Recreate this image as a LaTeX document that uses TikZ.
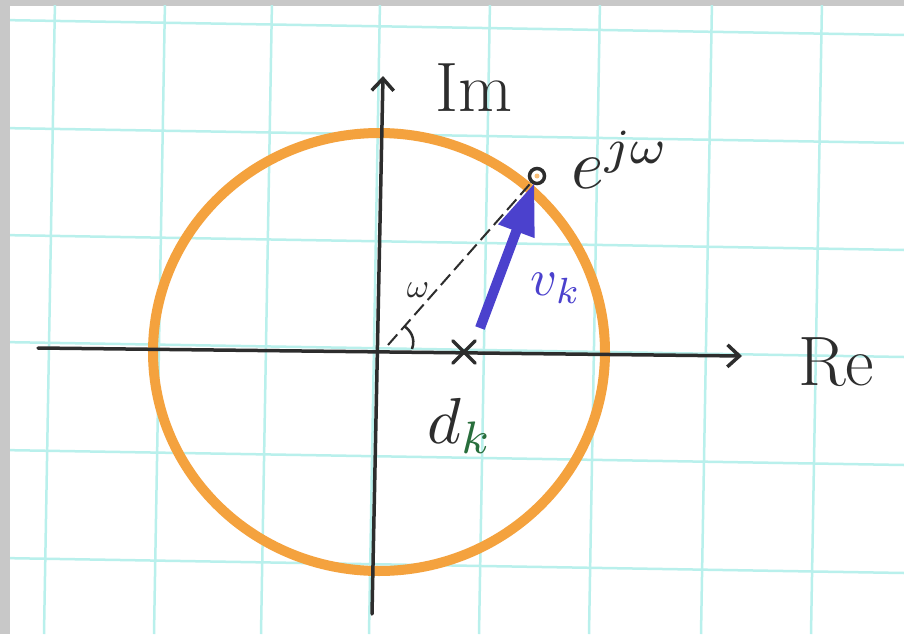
\documentclass[tikz,border=0pt]{standalone}
\usetikzlibrary{arrows.meta,calc}
\definecolor{gridc}{RGB}{185,240,236}
\definecolor{ringc}{RGB}{244,162,62}
\definecolor{penc}{RGB}{45,45,45}
\definecolor{bluec}{RGB}{75,65,205}
\definecolor{greenc}{RGB}{40,110,60}
\definecolor{framec}{RGB}{200,200,200}
\begin{document}
\begin{tikzpicture}[x=1pt,y=-1pt,
  gridline/.style={gridc,line width=2.5pt},
  axisline/.style={penc,line width=3.5pt,line cap=round},
  chevron/.style={-{Straight Barb[length=12pt,width=22pt,line width=3.5pt]}},
  lbl/.style={penc,inner sep=0pt}]
\useasboundingbox (0,0) rectangle (904,634);
\fill[framec] (0,0) rectangle (904,634);
\fill[white] (10,6) rectangle (904,634);
% grid (slightly rotated paper)
\begin{scope}
\clip (10,6) rectangle (904,634);
\foreach \x in {55,165,272,380,490,600,712,822}
  \draw[gridline] (\x,0) -- ({\x-11},634);
\foreach \y in {20,128,235,342,450,558}
  \draw[gridline] (0,\y) -- (904,{\y+15});
\end{scope}
% unit circle
\draw[ringc,line width=10pt] (379,352) ellipse [x radius=226, y radius=219];
% axes
\coordinate (reS) at (38,348);
\coordinate (reE) at (742,356);
\coordinate (imS) at (372,614);
\coordinate (imE) at (383,76);
\draw[axisline,chevron] (reS) -- (reE);
\draw[axisline,chevron] (imS) -- (imE);
% labels of axes
\node[lbl,font=\fontsize{70}{72}\selectfont] (im) at (474,88) {Im};
\node[lbl,font=\fontsize{70}{72}\selectfont] (re) at (836,362) {Re};
% point e^{jw}
\coordinate (O) at (388,345);
\node[circle,draw=penc,line width=3.5pt,fill=white,minimum size=15pt,inner sep=0pt] (P) at (537,176) {};
\fill[ringc!70!white] (P) circle (2.5pt);
\node[lbl,scale=7,anchor=west] (ejw) at (570,160) {$e^{j\omega}$};
% dashed ray
\draw[penc,line width=2pt,dash pattern=on 14pt off 6pt] (O) -- (P);
% angle arc
\draw[penc,line width=2.5pt] (412,349) .. controls (416,338) and (410,330) .. (404,326);
\node[lbl,scale=3.4] (w) at (418,290) {$\omega$};
% pole/zero d_k
\node[penc,inner sep=0pt,minimum size=22pt] (dk) at (464,352) {};
\draw[penc,line width=3.5pt,line cap=round] (dk.north west) -- (dk.south east);
\draw[penc,line width=3.5pt,line cap=round] (dk.north east) -- (dk.south west);
\node[lbl,scale=6.5] (dkl) at (460,426) {$d_{\color{greenc}k}$};
% vector v_k
\coordinate (vS) at (480,328);
\draw[bluec,line width=10pt,-{Triangle[length=52pt,width=36pt]}] (vS) -- ($(P)!7pt!(vS)$);
\node[lbl,bluec,scale=5.2] (vk) at (556,288) {$v_{k}$};
\end{tikzpicture}
\end{document}
